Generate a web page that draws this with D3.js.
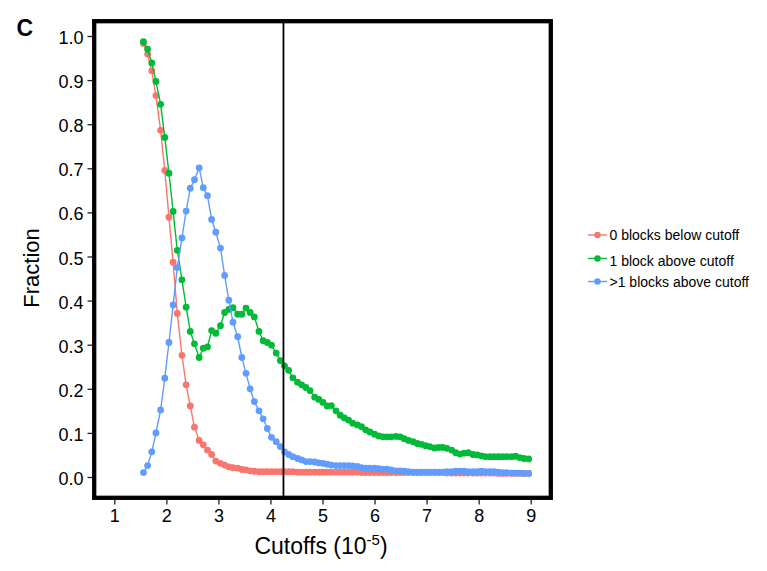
<!DOCTYPE html>
<html>
<head>
<meta charset="utf-8">
<script src="https://cdn.jsdelivr.net/npm/d3@7"></script>
<style>
  body { margin: 0; background: #fff; }
  text { font-family: "Liberation Sans", Arial, Helvetica, sans-serif; fill: #000; }
</style>
</head>
<body>
<div id="chart"></div>
<script>
// Cutoff values (x, in units of 1e-5)
const cutoffs = [1.56, 1.64, 1.72, 1.80, 1.89, 1.97, 2.05, 2.13, 2.21, 2.30,
    2.38, 2.46, 2.54, 2.63, 2.71, 2.79, 2.87, 2.95, 3.04, 3.12,
    3.20, 3.28, 3.37, 3.45, 3.53, 3.61, 3.69, 3.78, 3.86, 3.94,
    4.02, 4.11, 4.19, 4.27, 4.35, 4.43, 4.52, 4.60, 4.68, 4.76,
    4.85, 4.93, 5.01, 5.09, 5.17, 5.26, 5.34, 5.42, 5.50, 5.58,
    5.67, 5.75, 5.83, 5.91, 6.00, 6.08, 6.16, 6.24, 6.32, 6.41,
    6.49, 6.57, 6.65, 6.74, 6.82, 6.90, 6.98, 7.06, 7.15, 7.23,
    7.31, 7.39, 7.48, 7.56, 7.64, 7.72, 7.80, 7.89, 7.97, 8.05,
    8.13, 8.22, 8.30, 8.38, 8.46, 8.54, 8.63, 8.71, 8.79, 8.87, 8.96];

const zeroBelow = [0.983, 0.959, 0.921, 0.865, 0.786, 0.695, 0.589, 0.487, 0.371, 0.276,
    0.209, 0.161, 0.113, 0.083, 0.073, 0.061, 0.051, 0.036, 0.031, 0.027,
    0.023, 0.021, 0.020, 0.017, 0.016, 0.014, 0.013, 0.012, 0.012, 0.012,
    0.012, 0.012, 0.012, 0.012, 0.012, 0.012, 0.011, 0.011, 0.011, 0.011,
    0.011, 0.011, 0.011, 0.011, 0.011, 0.011, 0.011, 0.011, 0.011, 0.011,
    0.011, 0.010, 0.010, 0.010, 0.010, 0.010, 0.010, 0.010, 0.010, 0.010,
    0.010, 0.010, 0.010, 0.010, 0.010, 0.010, 0.010, 0.010, 0.010, 0.010,
    0.010, 0.009, 0.009, 0.009, 0.009, 0.009, 0.009, 0.009, 0.009, 0.009,
    0.009, 0.009, 0.009, 0.008, 0.008, 0.008, 0.008, 0.008, 0.008, 0.008, 0.008];

const oneAbove = [0.987, 0.970, 0.939, 0.897, 0.845, 0.770, 0.689, 0.602, 0.514, 0.447,
    0.385, 0.330, 0.302, 0.271, 0.292, 0.295, 0.332, 0.326, 0.343, 0.373,
    0.380, 0.384, 0.369, 0.369, 0.383, 0.373, 0.363, 0.330, 0.309, 0.305,
    0.299, 0.281, 0.264, 0.252, 0.242, 0.225, 0.215, 0.209, 0.203, 0.196,
    0.181, 0.176, 0.169, 0.161, 0.162, 0.150, 0.140, 0.134, 0.129, 0.122,
    0.118, 0.114, 0.107, 0.102, 0.097, 0.093, 0.091, 0.091, 0.091, 0.092,
    0.091, 0.087, 0.083, 0.080, 0.076, 0.074, 0.071, 0.069, 0.066, 0.067,
    0.067, 0.065, 0.061, 0.055, 0.052, 0.054, 0.055, 0.051, 0.050, 0.048,
    0.046, 0.046, 0.046, 0.046, 0.046, 0.046, 0.046, 0.047, 0.044, 0.042, 0.041];

const manyAbove = [0.010, 0.026, 0.057, 0.100, 0.152, 0.224, 0.305, 0.390, 0.475, 0.542,
    0.603, 0.655, 0.674, 0.701, 0.656, 0.638, 0.584, 0.555, 0.519, 0.457,
    0.401, 0.351, 0.318, 0.271, 0.235, 0.200, 0.171, 0.150, 0.132, 0.110,
    0.090, 0.080, 0.069, 0.057, 0.051, 0.046, 0.042, 0.039, 0.035, 0.035,
    0.034, 0.032, 0.031, 0.029, 0.027, 0.026, 0.026, 0.026, 0.026, 0.025,
    0.024, 0.021, 0.020, 0.020, 0.020, 0.019, 0.018, 0.018, 0.016, 0.014,
    0.014, 0.013, 0.012, 0.011, 0.011, 0.011, 0.011, 0.011, 0.011, 0.011,
    0.011, 0.012, 0.012, 0.013, 0.013, 0.013, 0.012, 0.012, 0.012, 0.013,
    0.012, 0.012, 0.012, 0.011, 0.010, 0.010, 0.009, 0.009, 0.009, 0.008, 0.008];

const seriesNames = ["0 blocks below cutoff", "1 block above cutoff", ">1 blocks above cutoff"];
const seriesColors = ["#F8766D", "#00BA38", "#619CFF"];
const xTicks = [1, 2, 3, 4, 5, 6, 7, 8, 9];
const yTicks = [0, 0.1, 0.2, 0.3, 0.4, 0.5, 0.6, 0.7, 0.8, 0.9, 1.0];
const cutoffLine = 4.25;

const series = [zeroBelow, oneAbove, manyAbove].map((vals, k) => ({
    name: seriesNames[k],
    color: seriesColors[k],
    points: vals.map((v, i) => ({ x: cutoffs[i], y: v }))
}));

const width = 767, height = 571;
// panel border (outer edges) 92..553 x 19..500
const panel = { left: 94.2, top: 21.2, right: 550.8, bottom: 497.8 };

const svg = d3.select("#chart").append("svg")
    .attr("width", width)
    .attr("height", height);

const xScale = d3.scaleLinear().domain([1, 9]).range([114.3, 530.7]);
const yScale = d3.scaleLinear().domain([0, 1]).range([477, 36]);

// the lines and dots, drawn per group
const line = d3.line().x(d => xScale(d.x)).y(d => yScale(d.y));

series.forEach(s => {
    svg.append("path")
        .datum(s.points)
        .attr("fill", "none")
        .attr("stroke", s.color)
        .attr("stroke-width", 1.4)
        .attr("d", line);
    svg.append("g")
        .selectAll("circle")
        .data(s.points)
        .enter()
        .append("circle")
        .attr("cx", d => xScale(d.x))
        .attr("cy", d => yScale(d.y))
        .attr("r", 3.4)
        .attr("fill", s.color);
});

// vertical cutoff line
svg.append("line")
    .attr("x1", xScale(cutoffLine)).attr("x2", xScale(cutoffLine))
    .attr("y1", panel.top).attr("y2", panel.bottom)
    .attr("stroke", "#000")
    .attr("stroke-width", 1.8);

// thick panel border
svg.append("rect")
    .attr("x", panel.left).attr("y", panel.top)
    .attr("width", panel.right - panel.left)
    .attr("height", panel.bottom - panel.top)
    .attr("fill", "none")
    .attr("stroke", "#000")
    .attr("stroke-width", 4.3);

// axes: ticks outside the border
const xAxis = d3.axisBottom(xScale).tickValues(xTicks).tickSize(4.5).tickPadding(5).tickFormat(d3.format("d"));
const yAxis = d3.axisLeft(yScale).tickValues(yTicks).tickSize(4.5).tickPadding(4).tickFormat(d3.format(".1f"));

const gx = svg.append("g")
    .attr("transform", `translate(0, ${panel.bottom + 2.2})`)
    .call(xAxis);
const gy = svg.append("g")
    .attr("transform", `translate(${panel.left - 2.2}, 0)`)
    .call(yAxis);

[gx, gy].forEach(g => {
    g.select(".domain").remove();
    g.selectAll(".tick line").attr("stroke", "#222").attr("stroke-width", 1.3);
    g.selectAll(".tick text")
        .attr("fill", "#000")
        .style("font-size", "18px");
});
gx.selectAll(".tick text").attr("dy", "0.71em");
gy.selectAll(".tick text").attr("dy", "0.42em");

// axis titles
const xTitle = svg.append("text")
    .attr("x", 321)
    .attr("y", 554)
    .attr("text-anchor", "middle")
    .style("font-size", "23px");
xTitle.append("tspan").text("Cutoffs (10");
xTitle.append("tspan").attr("dy", -9).style("font-size", "15px").text("-5");
xTitle.append("tspan").attr("dy", 9).text(")");

svg.append("text")
    .attr("transform", "translate(39, 268) rotate(-90)")
    .attr("text-anchor", "middle")
    .style("font-size", "22px")
    .text("Fraction");

// panel tag
svg.append("text")
    .attr("x", 16.5)
    .attr("y", 36)
    .style("font-size", "23px")
    .style("font-weight", "bold")
    .text("C");

// legend
const legendY = [235, 258.5, 281.5];
const legend = svg.append("g")
    .selectAll("g")
    .data(series)
    .enter()
    .append("g")
    .attr("transform", (d, i) => `translate(588, ${legendY[i]})`);

legend.append("line")
    .attr("x1", 0).attr("x2", 19)
    .attr("stroke", d => d.color)
    .attr("stroke-width", 1.4);
legend.append("circle")
    .attr("cx", 9.5)
    .attr("r", 3.2)
    .attr("fill", d => d.color);
legend.append("text")
    .attr("x", 21.5)
    .attr("y", (d, i) => i === 1 ? 7 : 5)
    .style("font-size", "14px")
    .text(d => d.name);
</script>
</body>
</html>
